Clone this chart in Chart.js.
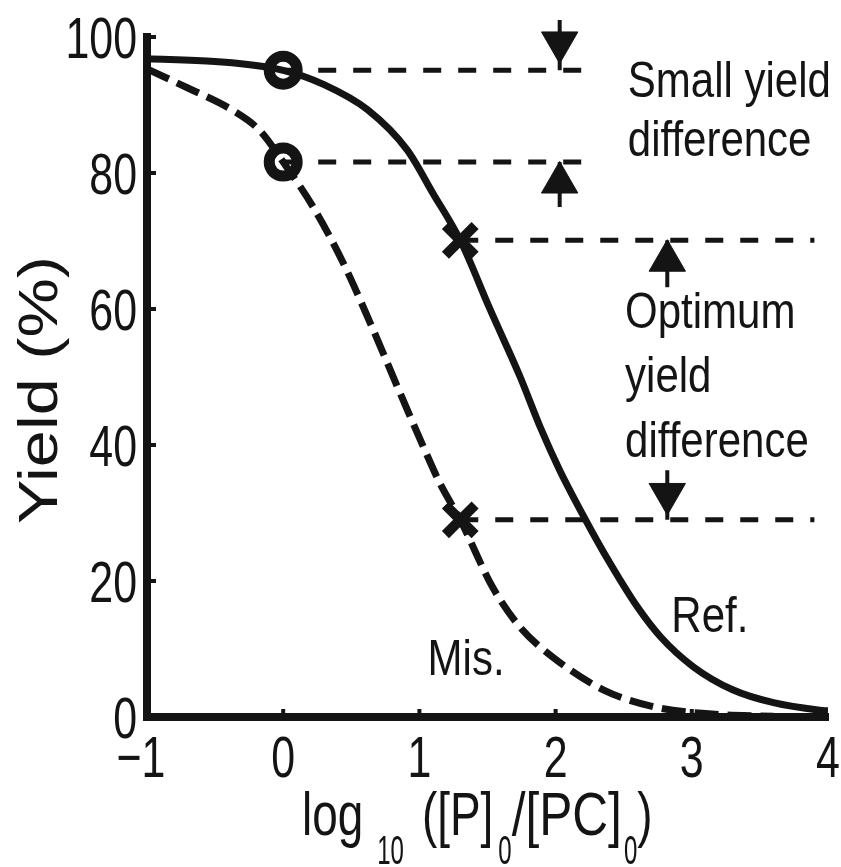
<!DOCTYPE html>
<html>
<head>
<meta charset="utf-8">
<script src="https://cdn.jsdelivr.net/npm/chart.js@4.4.1/dist/chart.umd.min.js"></script>
<style>
  html, body { margin: 0; padding: 0; background: #fff; }
  canvas { display: block; }
</style>
</head>
<body>
<canvas id="yieldChart" width="841" height="867"></canvas>
<script>
// curves: x = log10([P]0/[PC]0), y = yield (%)
const refX = [-1, -0.5, 0, 0.3, 0.62, 0.91, 1.1, 1.3, 1.52, 1.74, 1.89, 2.03, 2.22, 2.4, 2.6, 2.77, 3.01, 3.3, 3.6, 3.94, 4];
const refY = [96.8, 96.4, 95.1, 93, 89.3, 83.4, 77, 70.1, 59.9, 50, 42.5, 36.3, 29, 22.6, 16.2, 11.8, 7.4, 4.0, 2.1, 1.0, 0.9];

const misX = [-1, -0.7, -0.37, -0.17, 0, 0.22, 0.44, 0.64, 0.84, 1.03, 1.15, 1.3, 1.54, 1.74, 1.98, 2.35, 2.72, 3.1, 3.6];
const misY = [95.3, 92.5, 89.2, 86.2, 81.6, 75, 66.8, 57.9, 48.5, 39.7, 34.4, 29, 19, 13.2, 8.8, 4.0, 1.5, 0.5, 0.1];

// marked points
const circleX = [0, 0];
const circleY = [95.1, 81.6];
const crossX = [1.3, 1.3];
const crossY = [70.1, 29];

// dashed guide lines
const guideY = [95.1, 81.6, 70.1, 29];
const guideStart = [0, 0, 1.3, 1.3];
const guideEnd = [2.31, 2.31, 3.9, 3.9];

// arrows pointing at the guides
const arrowX = [2.03, 2.03, 2.82, 2.82];
const arrowTail = [102.5, 75, 63.2, 36.3];
const arrowTip = [95.1, 81.6, 70.1, 29];
const arrowHead = [99.2, 78.6, 67.1, 32.8];
const arrowRot = [180, 0, 0, 180];

const xTicks = [-1, 0, 1, 2, 3, 4];
const yTicks = [0, 20, 40, 60, 80, 100];

const ink = '#141414';
const textFont = '"Liberation Sans", Arial, sans-serif';

const pts = (xs, ys) => xs.map((x, i) => ({ x, y: ys[i] }));

const datasets = [
  {
    label: 'circles',
    data: pts(circleX, circleY),
    showLine: false,
    pointStyle: 'circle',
    pointRadius: 14,
    pointBorderWidth: 11,
    pointBorderColor: ink,
    pointBackgroundColor: 'rgba(0,0,0,0)',
    order: 0
  },
  {
    label: 'crosses',
    data: pts(crossX, crossY),
    showLine: false,
    pointStyle: 'crossRot',
    pointRadius: 21,
    pointBorderWidth: 10,
    pointBorderColor: ink,
    order: 0
  },
  {
    label: 'Ref.',
    data: pts(refX, refY),
    borderColor: ink,
    borderWidth: 7,
    pointRadius: 0,
    cubicInterpolationMode: 'monotone',
    order: 1
  },
  {
    label: 'Mis.',
    data: pts(misX, misY),
    borderColor: ink,
    borderWidth: 7,
    borderDash: [24, 9],
    pointRadius: 0,
    cubicInterpolationMode: 'monotone',
    order: 1
  }
];

guideY.forEach((y, i) => {
  datasets.push({
    label: 'guide' + i,
    data: [{ x: guideStart[i], y }, { x: guideEnd[i], y }],
    borderColor: ink,
    borderWidth: 5,
    borderDash: [18, 17],
    pointRadius: 0,
    order: 2
  });
});

arrowX.forEach((x, i) => {
  datasets.push({
    label: 'shaft' + i,
    data: [{ x, y: arrowTail[i] }, { x, y: arrowTip[i] }],
    borderColor: ink,
    borderWidth: 4,
    pointRadius: 0,
    clip: false,
    order: 0
  });
});

datasets.push({
  label: 'heads',
  data: pts(arrowX, arrowHead),
  showLine: false,
  pointStyle: 'triangle',
  pointRadius: 21,
  pointRotation: arrowRot,
  pointBorderWidth: 1,
  pointBorderColor: ink,
  pointBackgroundColor: ink,
  clip: false,
  order: 0
});

function drawText(ctx, str, x, y, size, sx, align) {
  ctx.save();
  ctx.translate(x, y);
  ctx.scale(sx, 1);
  ctx.textAlign = align || 'left';
  ctx.font = size + 'px ' + textFont;
  ctx.fillText(str, 0, 0);
  const w = ctx.measureText(str).width * sx;
  ctx.restore();
  return w;
}

const extras = {
  id: 'extras',
  afterDatasetsDraw(chart) {
    const { ctx, scales: { x, y }, chartArea } = chart;
    ctx.save();
    ctx.fillStyle = ink;
    ctx.strokeStyle = ink;
    ctx.textBaseline = 'alphabetic';

    // inward tick marks
    ctx.lineWidth = 4;
    y.ticks.forEach(t => {
      if (t.value === 0) return;
      const py = y.getPixelForValue(t.value);
      ctx.beginPath();
      ctx.moveTo(chartArea.left, py);
      ctx.lineTo(chartArea.left + 9, py);
      ctx.stroke();
    });
    x.ticks.forEach(t => {
      if (t.value === xTicks[0] || t.value === xTicks[xTicks.length - 1]) return;
      const px = x.getPixelForValue(t.value);
      ctx.beginPath();
      ctx.moveTo(px, chartArea.bottom);
      ctx.lineTo(px, chartArea.bottom - 8);
      ctx.stroke();
    });

    // tick labels (tall, narrow digits)
    y.ticks.forEach(t => {
      drawText(ctx, String(t.value), chartArea.left - 10, y.getPixelForValue(t.value) + 21, 58, 0.74, 'right');
    });
    x.ticks.forEach(t => {
      const s = t.value < 0 ? '\u2212' + Math.abs(t.value) : String(t.value);
      drawText(ctx, s, x.getPixelForValue(t.value) - (t.value < 0 ? 6 : 0), chartArea.bottom + 60, 58, 0.74, 'center');
    });

    // annotations
    const label = (s, vx, vy) => drawText(ctx, s, x.getPixelForValue(vx), y.getPixelForValue(vy), 50, 0.84);
    label('Small yield', 2.53, 91.2);
    label('difference', 2.53, 82.5);
    label('Optimum', 2.51, 57.2);
    label('yield', 2.51, 47.8);
    label('difference', 2.51, 38.2);
    label('Ref.', 2.85, 12.5);
    label('Mis.', 1.06, 6.2);

    // y axis title
    ctx.save();
    ctx.translate(57, 390);
    ctx.rotate(-Math.PI / 2);
    ctx.scale(1.19, 1);
    ctx.textAlign = 'center';
    ctx.font = '56px ' + textFont;
    ctx.fillText('Yield (%)', 0, 0);
    ctx.restore();

    // x axis title with subscripts
    let cx = 302;
    const base = 835;
    const subBase = 864;
    const sx = 0.74;
    cx += drawText(ctx, 'log', cx, base, 62, sx) + 14;
    cx += drawText(ctx, '10', cx, subBase, 40, 0.6) + 18;
    cx += drawText(ctx, '([P]', cx, base, 62, sx) + 5;
    cx += drawText(ctx, '0', cx, subBase, 40, 0.6);
    cx += drawText(ctx, '/[PC]', cx, base, 62, sx + 0.06) + 2;
    cx += drawText(ctx, '0', cx, subBase, 40, 0.6);
    drawText(ctx, ')', cx, base, 62, sx);

    ctx.restore();
  }
};

new Chart(document.getElementById('yieldChart'), {
  type: 'line',
  data: { datasets },
  options: {
    responsive: false,
    animation: false,
    events: [],
    layout: { autoPadding: false, padding: { left: 0, right: 13, top: 37, bottom: 0 } },
    plugins: {
      legend: { display: false },
      tooltip: { enabled: false }
    },
    scales: {
      x: {
        type: 'linear',
        min: -1,
        max: 4,
        afterFit(scale) { scale.height = 150; },
        afterBuildTicks(scale) { scale.ticks = xTicks.map(v => ({ value: v })); },
        ticks: { display: false },
        grid: { display: false, drawTicks: false },
        border: { color: ink, width: 8 }
      },
      y: {
        min: 0,
        max: 100,
        afterFit(scale) { scale.width = 147; },
        afterBuildTicks(scale) { scale.ticks = yTicks.map(v => ({ value: v })); },
        ticks: { display: false },
        grid: { display: false, drawTicks: false },
        border: { color: ink, width: 8 }
      }
    }
  },
  plugins: [extras]
});
</script>
</body>
</html>
